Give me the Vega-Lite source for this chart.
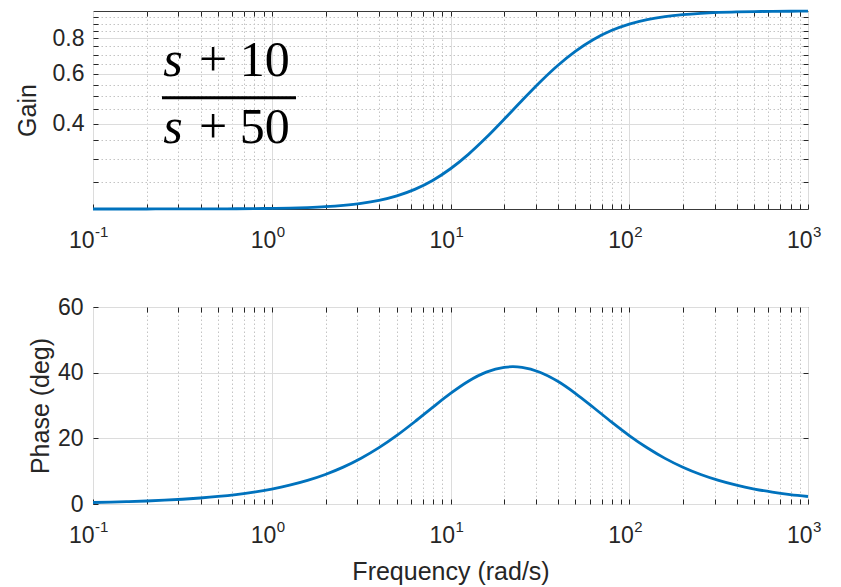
{
  "$schema": "https://vega.github.io/schema/vega-lite/v6.json",
  "background": "white",
  "padding": {"left": 14, "top": 5, "right": 10, "bottom": 5},
  "spacing": 42,
  "datasets": {
    "bode": [
      {"w": 0.1, "gain": 0.2000, "phase": 0.458},
      {"w": 0.1259, "gain": 0.2000, "phase": 0.577},
      {"w": 0.1585, "gain": 0.2000, "phase": 0.726},
      {"w": 0.1995, "gain": 0.2000, "phase": 0.915},
      {"w": 0.2512, "gain": 0.2001, "phase": 1.151},
      {"w": 0.3162, "gain": 0.2001, "phase": 1.449},
      {"w": 0.3981, "gain": 0.2002, "phase": 1.824},
      {"w": 0.5012, "gain": 0.2003, "phase": 2.295},
      {"w": 0.6310, "gain": 0.2004, "phase": 2.887},
      {"w": 0.7943, "gain": 0.2006, "phase": 3.631},
      {"w": 1, "gain": 0.2010, "phase": 4.565},
      {"w": 1.259, "gain": 0.2015, "phase": 5.733},
      {"w": 1.585, "gain": 0.2024, "phase": 7.190},
      {"w": 1.995, "gain": 0.2038, "phase": 8.999},
      {"w": 2.512, "gain": 0.2060, "phase": 11.224},
      {"w": 3.162, "gain": 0.2093, "phase": 13.929},
      {"w": 3.981, "gain": 0.2146, "phase": 17.155},
      {"w": 5.012, "gain": 0.2226, "phase": 20.896},
      {"w": 6.310, "gain": 0.2346, "phase": 25.057},
      {"w": 7.943, "gain": 0.2523, "phase": 29.435},
      {"w": 10, "gain": 0.2774, "phase": 33.690},
      {"w": 12.59, "gain": 0.3118, "phase": 37.406},
      {"w": 15.85, "gain": 0.3573, "phase": 40.161},
      {"w": 19.95, "gain": 0.4146, "phase": 41.626},
      {"w": 22.36, "gain": 0.4472, "phase": 41.810},
      {"w": 25.12, "gain": 0.4832, "phase": 41.619},
      {"w": 31.62, "gain": 0.5606, "phase": 40.142},
      {"w": 39.81, "gain": 0.6422, "phase": 37.372},
      {"w": 50.12, "gain": 0.7219, "phase": 33.648},
      {"w": 63.10, "gain": 0.7935, "phase": 29.389},
      {"w": 79.43, "gain": 0.8530, "phase": 25.016},
      {"w": 100, "gain": 0.8989, "phase": 20.854},
      {"w": 125.9, "gain": 0.9323, "phase": 17.120},
      {"w": 158.5, "gain": 0.9556, "phase": 13.899},
      {"w": 199.5, "gain": 0.9712, "phase": 11.199},
      {"w": 251.2, "gain": 0.9815, "phase": 8.978},
      {"w": 316.2, "gain": 0.9882, "phase": 7.174},
      {"w": 398.1, "gain": 0.9925, "phase": 5.719},
      {"w": 501.2, "gain": 0.9953, "phase": 4.555},
      {"w": 631.0, "gain": 0.9970, "phase": 3.623},
      {"w": 794.3, "gain": 0.9981, "phase": 2.881},
      {"w": 1000, "gain": 0.9988, "phase": 2.289}
    ],
    "fracS": [
      {"x": 0.2803, "y": 0.5896, "t": "s"},
      {"x": 0.2803, "y": 0.342, "t": "s"}
    ],
    "fracR": [
      {"x": 0.3917, "y": 0.5896, "t": "+ 10"},
      {"x": 0.3917, "y": 0.342, "t": "+ 50"}
    ],
    "bar": [
      {"x": 0.2432, "x2": 1.367, "y": 0.4943}
    ],
    "expNeg": [
      {"w": 0.1, "e": "-1"}
    ],
    "expPos": [
      {"w": 1, "e": "0"},
      {"w": 10, "e": "1"},
      {"w": 100, "e": "2"},
      {"w": 1000, "e": "3"}
    ]
  },
  "vconcat": [
    {
      "width": 715,
      "height": 198,
      "layer": [
        {
          "data": {"name": "bode"},
          "mark": {"type": "line", "color": "#0072BD", "strokeWidth": 2.8, "interpolate": "monotone"},
          "encoding": {
            "x": {
              "field": "w", "type": "quantitative",
              "scale": {"type": "log", "domain": [0.1, 1000], "nice": false},
              "axis": {
                "orient": "bottom", "title": null,
                "values": [0.1,0.2,0.3,0.4,0.5,0.6,0.7,0.8,0.9,1,2,3,4,5,6,7,8,9,10,20,30,40,50,60,70,80,90,100,200,300,400,500,600,700,800,900,1000],
                "labelExpr": "datum.value==0.1||datum.value==1||datum.value==10||datum.value==100||datum.value==1000?'10':''",
                "labelAlign": "right",
                "labelOffset": {"condition": {"test": "datum.value==0.1", "value": 1}, "value": 4},
                "labelFlush": false, "labelOverlap": false, "labelBound": false,
                "tickSize": -5, "labelPadding": 25,
                "gridDash": {"condition": {"test": "datum.value==0.1||datum.value==1||datum.value==10||datum.value==100||datum.value==1000", "value": []}, "value": [1.5, 2.5]},
                "gridColor": {"condition": {"test": "datum.value==0.1||datum.value==1||datum.value==10||datum.value==100||datum.value==1000", "value": "#dcdcdc"}, "value": "#c4c4c4"}
              }
            },
            "y": {
              "field": "gain", "type": "quantitative",
              "scale": {"type": "log", "domain": [0.2, 1], "nice": false},
              "axis": {
                "orient": "left", "title": "Gain", "titlePadding": 12,
                "values": [0.25,0.3,0.35,0.4,0.45,0.5,0.55,0.6,0.65,0.7,0.75,0.8,0.85,0.9,0.95],
                "labelExpr": "datum.value==0.4?'0.4':datum.value==0.6?'0.6':datum.value==0.8?'0.8':''",
                "labelOverlap": false, "labelFlush": false, "labelBound": false,
                "tickSize": -5, "labelPadding": 14,
                "gridDash": {"condition": {"test": "datum.value==0.4||datum.value==0.6||datum.value==0.8", "value": []}, "value": [1.5, 2.5]},
                "gridColor": {"condition": {"test": "datum.value==0.4||datum.value==0.6||datum.value==0.8", "value": "#dcdcdc"}, "value": "#c4c4c4"}
              }
            }
          }
        },
        {
          "data": {"name": "bode"},
          "mark": {"type": "line", "opacity": 0},
          "encoding": {
            "x": {
              "field": "w", "type": "quantitative",
              "scale": {"type": "log", "domain": [0.1, 1000], "nice": false},
              "axis": {"orient": "top", "title": null, "labels": false, "grid": false, "tickSize": -5,
                "values": [0.2,0.3,0.4,0.5,0.6,0.7,0.8,0.9,1,2,3,4,5,6,7,8,9,10,20,30,40,50,60,70,80,90,100,200,300,400,500,600,700,800,900]}
            },
            "y": {
              "field": "gain", "type": "quantitative",
              "scale": {"type": "log", "domain": [0.2, 1], "nice": false},
              "axis": {"orient": "right", "title": null, "labels": false, "grid": false, "tickSize": -5,
                "values": [0.25,0.3,0.35,0.4,0.45,0.5,0.55,0.6,0.65,0.7,0.75,0.8,0.85,0.9,0.95]}
            }
          }
        },
        {
          "data": {"name": "expNeg"},
          "mark": {"type": "text", "font": "Liberation Sans", "fontSize": 15, "align": "left", "baseline": "top", "dx": 2, "dy": 16, "color": "#262626"},
          "encoding": {
            "x": {"field": "w", "type": "quantitative", "axis": null},
            "y": {"datum": 0.2, "type": "quantitative", "axis": null},
            "text": {"field": "e"}
          }
        },
        {
          "data": {"name": "expPos"},
          "mark": {"type": "text", "font": "Liberation Sans", "fontSize": 15, "align": "left", "baseline": "top", "dx": 5, "dy": 16, "color": "#262626"},
          "encoding": {
            "x": {"field": "w", "type": "quantitative", "axis": null},
            "y": {"datum": 0.2, "type": "quantitative", "axis": null},
            "text": {"field": "e"}
          }
        },
        {
          "data": {"name": "bar"},
          "mark": {"type": "rule", "color": "black", "strokeWidth": 3},
          "encoding": {
            "x": {"field": "x", "type": "quantitative", "axis": null},
            "x2": {"field": "x2"},
            "y": {"field": "y", "type": "quantitative", "axis": null}
          }
        },
        {
          "data": {"name": "fracS"},
          "mark": {"type": "text", "font": "Liberation Serif", "fontStyle": "italic", "fontSize": 50, "align": "center", "baseline": "alphabetic", "color": "black"},
          "encoding": {
            "x": {"field": "x", "type": "quantitative", "axis": null},
            "y": {"field": "y", "type": "quantitative", "axis": null},
            "text": {"field": "t"}
          }
        },
        {
          "data": {"name": "fracR"},
          "mark": {"type": "text", "font": "Liberation Serif", "fontSize": 50, "align": "left", "baseline": "alphabetic", "color": "black"},
          "encoding": {
            "x": {"field": "x", "type": "quantitative", "axis": null},
            "y": {"field": "y", "type": "quantitative", "axis": null},
            "text": {"field": "t"}
          }
        }
      ],
      "resolve": {"axis": {"x": "independent", "y": "independent"}}
    },
    {
      "width": 715,
      "height": 197,
      "layer": [
        {
          "data": {"name": "bode"},
          "mark": {"type": "line", "color": "#0072BD", "strokeWidth": 2.8, "interpolate": "monotone"},
          "encoding": {
            "x": {
              "field": "w", "type": "quantitative",
              "scale": {"type": "log", "domain": [0.1, 1000], "nice": false},
              "axis": {
                "orient": "bottom", "title": "Frequency (rad/s)", "titlePadding": 12,
                "values": [0.1,0.2,0.3,0.4,0.5,0.6,0.7,0.8,0.9,1,2,3,4,5,6,7,8,9,10,20,30,40,50,60,70,80,90,100,200,300,400,500,600,700,800,900,1000],
                "labelExpr": "datum.value==0.1||datum.value==1||datum.value==10||datum.value==100||datum.value==1000?'10':''",
                "labelAlign": "right",
                "labelOffset": {"condition": {"test": "datum.value==0.1", "value": 1}, "value": 4},
                "labelFlush": false, "labelOverlap": false, "labelBound": false,
                "tickSize": -5, "labelPadding": 25,
                "gridDash": {"condition": {"test": "datum.value==0.1||datum.value==1||datum.value==10||datum.value==100||datum.value==1000", "value": []}, "value": [1.5, 2.5]},
                "gridColor": {"condition": {"test": "datum.value==0.1||datum.value==1||datum.value==10||datum.value==100||datum.value==1000", "value": "#dcdcdc"}, "value": "#c4c4c4"}
              }
            },
            "y": {
              "field": "phase", "type": "quantitative",
              "scale": {"domain": [0, 60], "nice": false},
              "axis": {
                "orient": "left", "title": "Phase (deg)", "titlePadding": 4,
                "values": [0, 20, 40, 60],
                "labelOverlap": false, "labelFlush": false, "labelBound": false,
                "tickSize": -5, "labelPadding": 15,
                "gridColor": "#dcdcdc"
              }
            }
          }
        },
        {
          "data": {"name": "bode"},
          "mark": {"type": "line", "opacity": 0},
          "encoding": {
            "x": {
              "field": "w", "type": "quantitative",
              "scale": {"type": "log", "domain": [0.1, 1000], "nice": false},
              "axis": {"orient": "top", "title": null, "labels": false, "grid": false, "tickSize": -5,
                "values": [0.2,0.3,0.4,0.5,0.6,0.7,0.8,0.9,1,2,3,4,5,6,7,8,9,10,20,30,40,50,60,70,80,90,100,200,300,400,500,600,700,800,900]}
            },
            "y": {
              "field": "phase", "type": "quantitative",
              "scale": {"domain": [0, 60], "nice": false},
              "axis": {"orient": "right", "title": null, "labels": false, "grid": false, "tickSize": -5,
                "values": [20, 40]}
            }
          }
        },
        {
          "data": {"name": "expNeg"},
          "mark": {"type": "text", "font": "Liberation Sans", "fontSize": 15, "align": "left", "baseline": "top", "dx": 2, "dy": 16, "color": "#262626"},
          "encoding": {
            "x": {"field": "w", "type": "quantitative", "axis": null},
            "y": {"datum": 0, "type": "quantitative", "axis": null},
            "text": {"field": "e"}
          }
        },
        {
          "data": {"name": "expPos"},
          "mark": {"type": "text", "font": "Liberation Sans", "fontSize": 15, "align": "left", "baseline": "top", "dx": 5, "dy": 16, "color": "#262626"},
          "encoding": {
            "x": {"field": "w", "type": "quantitative", "axis": null},
            "y": {"datum": 0, "type": "quantitative", "axis": null},
            "text": {"field": "e"}
          }
        }
      ],
      "resolve": {"axis": {"x": "independent", "y": "independent"}}
    }
  ],
  "config": {
    "view": {"stroke": "#3a3a3a", "strokeWidth": 1},
    "axis": {
      "domain": false,
      "labelFont": "Liberation Sans",
      "labelFontSize": 23,
      "labelColor": "#262626",
      "titleFont": "Liberation Sans",
      "titleFontSize": 25,
      "titleFontWeight": "normal",
      "titleColor": "#262626",
      "tickColor": "#262626",
      "tickWidth": 1,
      "gridWidth": 1,
      "gridOpacity": 1
    }
  }
}
